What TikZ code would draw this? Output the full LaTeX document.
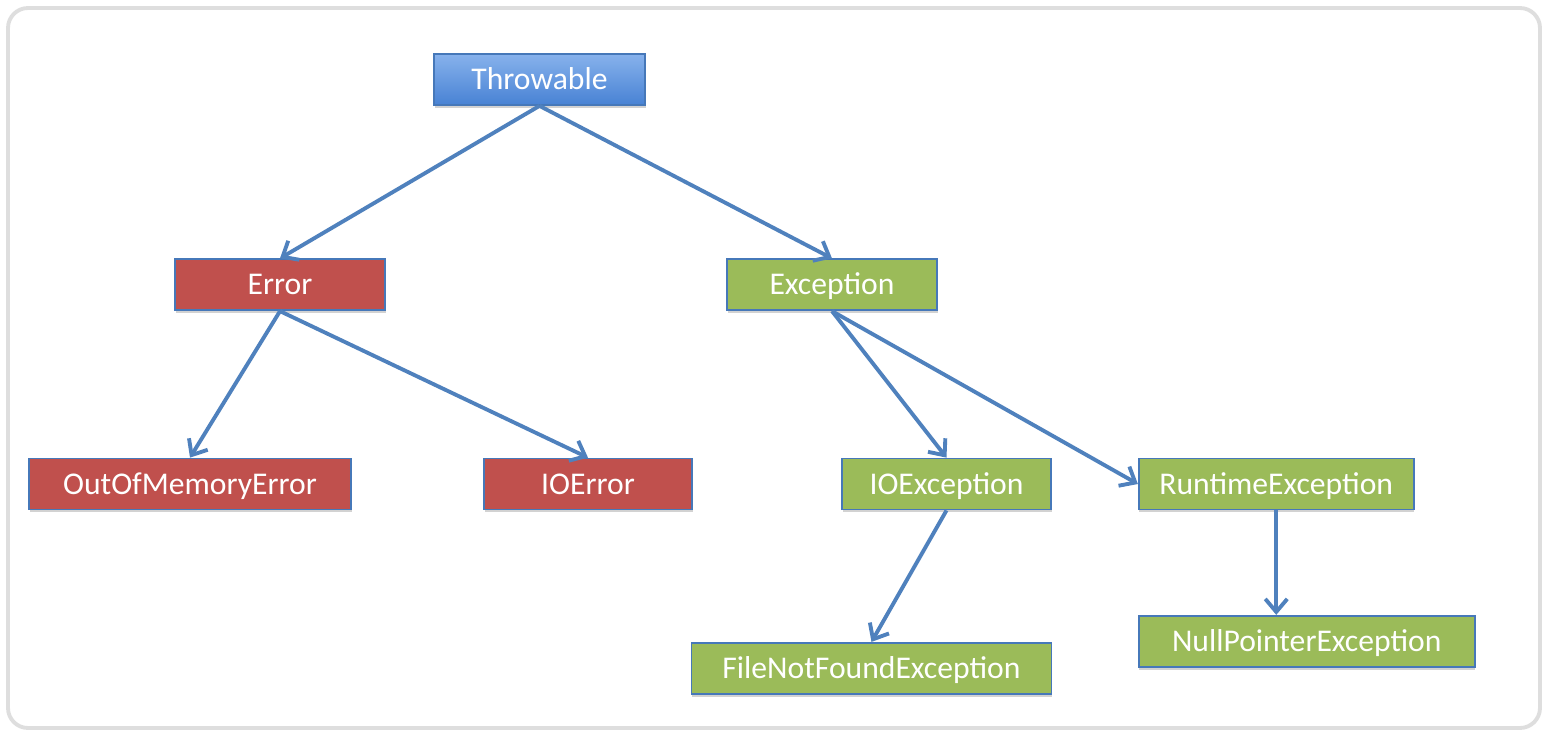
\documentclass[tikz,border=0pt]{standalone}
\usepackage{fontspec}
\setmainfont{Carlito}
\usepackage{tikz}
\usetikzlibrary{positioning, arrows.meta, shadows}
\definecolor{linkblue}{RGB}{79,129,189}
\definecolor{edgeblue}{RGB}{70,120,185}
\definecolor{errred}{RGB}{192,80,77}
\definecolor{excgreen}{RGB}{155,187,89}
\tikzset{
  base/.style={rectangle, minimum height=1.02cm, text height=13.6pt, text depth=2pt, text centered, draw=edgeblue, line width=1pt, text=white,
    font=\fontsize{18}{20}\selectfont, drop shadow={shadow xshift=0.4pt, shadow yshift=-1.6pt, opacity=0.35}},
  rootbox/.style={base, top color={rgb,255:red,135;green,178;blue,236}, bottom color={rgb,255:red,72;green,130;blue,212}},
  errbox/.style={base, fill=errred},
  excbox/.style={base, fill=excgreen},
  arrow/.style={draw=linkblue, line width=2.2pt, -{Straight Barb[length=2.6mm,width=4.4mm]}}
}
\begin{document}
\begin{tikzpicture}[node distance=3cm]

  % Marco exterior
  \useasboundingbox (0,0) rectangle (30.96,-14.72);
  \draw[black!13, line width=2.2pt, rounded corners=0.4cm, fill=white] (0.16,-0.16) rectangle (30.8,-14.56);

  % Nodos
  \node (throwable) [rootbox, minimum width=4.22cm] at (10.79,-1.59) {Throwable};

  \node (error) [errbox, minimum width=4.2cm, below=3.05cm of throwable, xshift=-5.19cm] {Error};
  \node (exception) [excbox, minimum width=4.2cm, below=3.05cm of throwable, xshift=5.85cm] {Exception};

  \node (oom) [errbox, minimum width=6.44cm, below=2.93cm of error, xshift=-1.8cm] {OutOfMemoryError};
  \node (ioerror) [errbox, minimum width=4.16cm, below=2.93cm of error, xshift=6.16cm] {IOError};

  \node (ioexception) [excbox, minimum width=4.18cm, below=2.93cm of exception, xshift=2.29cm] {IOException};
  \node (runtime) [excbox, minimum width=5.5cm, right=1.72cm of ioexception] {RuntimeException};

  \node (filenotfound) [excbox, minimum width=7.2cm, below=2.63cm of ioexception, xshift=-1.5cm] {FileNotFoundException};
  \node (nullpointer) [excbox, minimum width=6.72cm, below=2.09cm of runtime, xshift=0.61cm] {NullPointerException};

  % Conexiones
  \draw [arrow] (throwable.south) -- (error.north);
  \draw [arrow] (throwable.south) -- (exception.north);
  \draw [arrow] (error.south) -- (oom.north);
  \draw [arrow] (error.south) -- (ioerror.north);
  \draw [arrow] (exception.south) -- (ioexception.north);
  \draw [arrow] (exception.south) -- (runtime.west);
  \draw [arrow] (ioexception.south) -- (filenotfound.north);
  \draw [arrow] (runtime.south) -- (runtime.south |- nullpointer.north);

\end{tikzpicture}
\end{document}
